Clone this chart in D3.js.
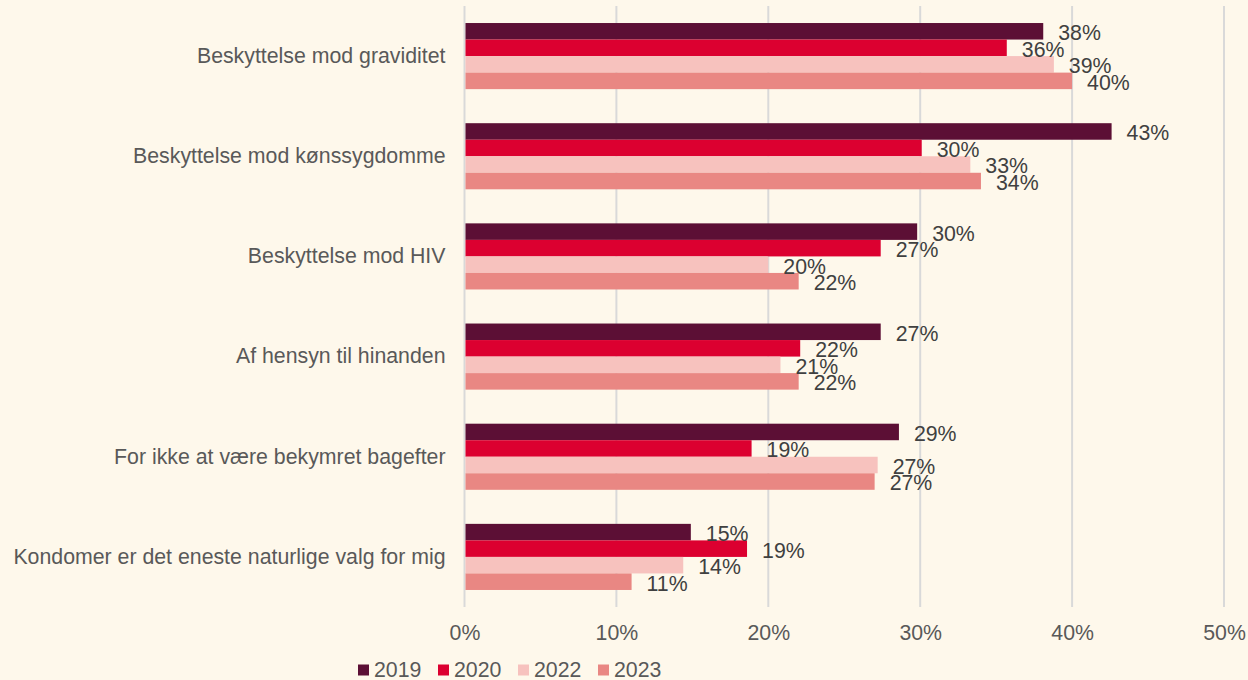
<!DOCTYPE html>
<html>
<head>
<meta charset="utf-8">
<script src="https://cdn.jsdelivr.net/npm/d3@7"></script>
<style>
  html, body { margin: 0; padding: 0; background: #fef8eb; }
  svg { display: block; }
  text { font-family: "Liberation Sans", Arial, sans-serif; }
</style>
</head>
<body>
<svg id="chart" width="1248" height="680"></svg>
<script>
const categories = [
  "Beskyttelse mod graviditet",
  "Beskyttelse mod kønssygdomme",
  "Beskyttelse mod HIV",
  "Af hensyn til hinanden",
  "For ikke at være bekymret bagefter",
  "Kondomer er det eneste naturlige valg for mig"
];
const seriesNames = ["2019", "2020", "2022", "2023"];
const values2019 = [38.1, 42.6, 29.8, 27.4, 28.6, 14.9];
const values2020 = [35.7, 30.1, 27.4, 22.1, 18.9, 18.6];
const values2022 = [38.8, 33.3, 20.0, 20.8, 27.2, 14.4];
const values2023 = [40.0, 34.0, 22.0, 22.0, 27.0, 11.0];
const xTicks = [0, 10, 20, 30, 40, 50];
const colors = ["#5c0f35", "#dc0030", "#f7c2be", "#e98783"];

const seriesValues = [values2019, values2020, values2022, values2023];

const svg = d3.select("#chart");
const fontSize = 21.3;

const x = d3.scaleLinear().domain([0, 50]).range([464.5, 1224]);
const y = d3.scaleBand().domain(categories).range([6, 607]).paddingInner(0.34).paddingOuter(0.17);
const ySub = d3.scaleBand().domain(seriesNames).range([0, y.bandwidth()]).padding(0);

// gridlines
svg.append("g").selectAll("line").data(xTicks).join("line")
  .attr("x1", d => x(d)).attr("x2", d => x(d))
  .attr("y1", 6).attr("y2", 607)
  .attr("stroke", "#d9d9d9").attr("stroke-width", 2);

// x tick labels
const xAxis = d3.axisBottom(x).tickValues(xTicks).tickFormat(d => d + "%").tickSize(0).tickPadding(0);
const gx = svg.append("g").attr("transform", "translate(0,633)").call(xAxis);
gx.select(".domain").remove();
gx.selectAll("text")
  .attr("y", 0).attr("dy", "0.35em")
  .attr("fill", "#595959")
  .style("font-size", fontSize + "px")
  .style("font-family", '"Liberation Sans", Arial, sans-serif');

// category labels
const yAxis = d3.axisLeft(y).tickSize(0).tickPadding(0);
const gy = svg.append("g").attr("transform", "translate(445.5,0)").call(yAxis);
gy.select(".domain").remove();
gy.selectAll("text")
  .attr("x", 0).attr("dy", "0.32em")
  .attr("fill", "#595959")
  .style("font-size", fontSize + "px")
  .style("font-family", '"Liberation Sans", Arial, sans-serif');

// bars
const rows = [];
categories.forEach((c, i) => {
  seriesNames.forEach((s, j) => {
    rows.push({ cat: c, series: s, value: seriesValues[j][i], color: colors[j] });
  });
});

svg.append("g").selectAll("rect").data(rows).join("rect")
  .attr("x", x(0) + 1)
  .attr("y", d => y(d.cat) + ySub(d.series))
  .attr("width", d => x(d.value) - x(0) - 1)
  .attr("height", ySub.bandwidth())
  .attr("fill", d => d.color);

// data labels
svg.append("g").selectAll("text").data(rows).join("text")
  .attr("x", d => x(d.value) + 15)
  .attr("y", d => y(d.cat) + ySub(d.series) + ySub.bandwidth() / 2)
  .attr("dy", "0.42em")
  .attr("fill", "#404040")
  .style("font-size", fontSize + "px")
  .text(d => Math.round(d.value) + "%");

// legend
const legend = svg.append("g").attr("transform", "translate(358,670)");
const item = legend.selectAll("g").data(seriesNames).join("g")
  .attr("transform", (d, i) => `translate(${i * 80},0)`);
item.append("rect")
  .attr("x", 0).attr("y", -5.5).attr("width", 11).attr("height", 11)
  .attr("fill", (d, i) => colors[i]);
item.append("text")
  .attr("x", 16).attr("y", 0).attr("dy", "0.35em")
  .attr("fill", "#595959")
  .style("font-size", fontSize + "px")
  .text(d => d);
</script>
</body>
</html>
